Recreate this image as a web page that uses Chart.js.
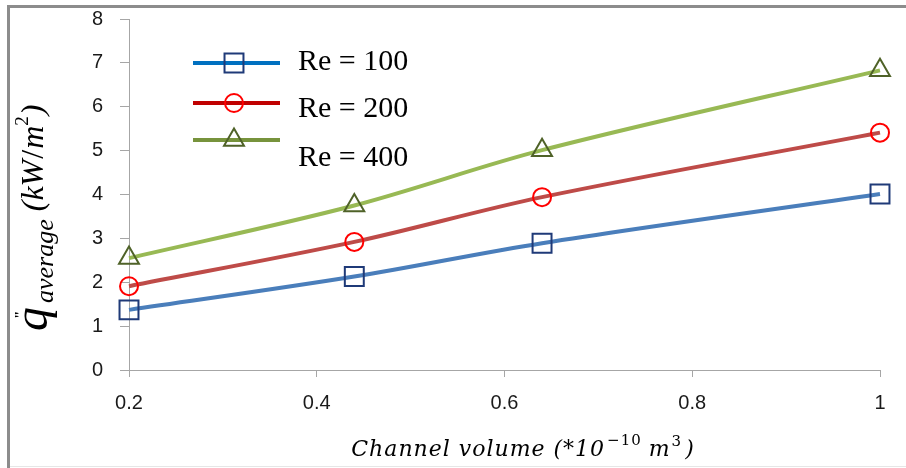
<!DOCTYPE html>
<html>
<head>
<meta charset="utf-8">
<script src="https://cdn.jsdelivr.net/npm/chart.js@4/dist/chart.umd.min.js"></script>
<style>
  html, body { margin: 0; padding: 0; background: #fff; }
  #wrap { width: 906px; height: 468px; position: relative; }
</style>
</head>
<body>
<div id="wrap"><canvas id="c" width="906" height="468"></canvas></div>
<script>
// ---- data ----
const channelVolume = [0.2, 0.44, 0.64, 1];
const re100 = [1.37, 2.13, 2.89, 4.01];
const re200 = [1.91, 2.92, 3.94, 5.41];
const re400 = [2.55, 3.75, 5.01, 6.83];
const seriesLabels = ['Re = 100', 'Re = 200', 'Re = 400'];
const yTicks = [0, 1, 2, 3, 4, 5, 6, 7, 8];
const xTicks = [0.2, 0.4, 0.6, 0.8, 1];

// ---- styles ----
const lineColors = ['#4A7EBB', '#BE4B48', '#98B954'];
const legendLineColors = ['#0070C0', '#C00000', '#77933C'];
const markerColors = ['#1F3A78', '#FF0000', '#4F6228'];
const markerStyles = ['rect', 'circle', 'triangle'];
const markerRadius = [13.4, 9, 11.5];

function pts(ys) { return channelVolume.map((x, i) => ({ x: x, y: ys[i] })); }
const allSeries = [re100, re200, re400];

const datasets = allSeries.map((ys, i) => ({
  label: seriesLabels[i],
  data: pts(ys),
  borderColor: lineColors[i],
  borderWidth: 4,
  tension: 0.33,
  fill: false,
  clip: false,
  pointStyle: markerStyles[i],
  pointRadius: markerRadius[i],
  pointHoverRadius: markerRadius[i],
  pointBorderColor: markerColors[i],
  pointBackgroundColor: 'rgba(0,0,0,0)',
  pointBorderWidth: 2
}));

const AXIS_GRAY = '#A6A6A6';

const framePlugin = {
  id: 'frame',
  beforeDraw(chart) {
    const ctx = chart.ctx;
    ctx.save();
    ctx.fillStyle = '#fff';
    ctx.fillRect(0, 0, chart.width, chart.height);
    ctx.restore();
  },
  afterDraw(chart) {
    const ctx = chart.ctx;
    ctx.save();
    ctx.strokeStyle = '#8C8C8C';
    ctx.lineWidth = 3;
    ctx.beginPath();
    ctx.moveTo(7, 6.5); ctx.lineTo(906, 6.5);
    ctx.moveTo(8.5, 5); ctx.lineTo(8.5, 468);
    ctx.stroke();
    ctx.strokeStyle = '#E6E6E6';
    ctx.lineWidth = 1;
    ctx.beginPath();
    ctx.moveTo(10, 466.5); ctx.lineTo(906, 466.5);
    ctx.stroke();

    // ---- y axis title ----
    ctx.fillStyle = '#000';
    ctx.translate(47, 331);
    ctx.rotate(-Math.PI / 2);
    ctx.textAlign = 'left';
    ctx.textBaseline = 'alphabetic';
    let x = 0;
    ctx.font = 'italic 48px "Liberation Serif"';
    ctx.fillText('q', x, 0);
    const qw = ctx.measureText('q').width;
    // double prime above q
    ctx.font = 'bold 15px "Liberation Serif"';
    ctx.fillText('"', x + qw * 0.5, -22);
    x += qw + 4;
    ctx.font = 'italic 26px "Liberation Serif"';
    ctx.fillText('average', x, 6);
    x += ctx.measureText('average').width + 8;
    ctx.font = 'italic 32px "Liberation Serif"';
    ctx.fillText('(kW', x, -4);
    x += ctx.measureText('(kW').width + 1;
    ctx.font = '32px "Liberation Serif"';
    ctx.fillText('/', x, -4);
    x += ctx.measureText('/').width + 1;
    ctx.font = 'italic 32px "Liberation Serif"';
    ctx.fillText('m', x, -4);
    x += ctx.measureText('m').width;
    ctx.font = '19px "Liberation Serif"';
    ctx.fillText('2', x, -19);
    x += ctx.measureText('2').width + 1;
    ctx.font = 'italic 32px "Liberation Serif"';
    ctx.fillText(')', x, -4);
    ctx.restore();

    // ---- x axis title ----
    ctx.save();
    ctx.fillStyle = '#000';
    ctx.textBaseline = 'alphabetic';
    ctx.textAlign = 'left';
    ctx.letterSpacing = '1px';
    const parts = [
      { t: 'Channel volume (*10', f: 'italic 22px "DejaVu Serif"', dy: 0, gap: 2 },
      { t: '\u221210', f: '15px "DejaVu Serif"', dy: -11, gap: 7 },
      { t: 'm', f: 'italic 22px "DejaVu Serif"', dy: 0, gap: 1 },
      { t: '3', f: '15px "DejaVu Serif"', dy: -10, gap: 3 },
      { t: ')', f: 'italic 22px "DejaVu Serif"', dy: 0, gap: 0 }
    ];
    let total = 0;
    parts.forEach(p => { ctx.font = p.f; p.w = ctx.measureText(p.t).width; total += p.w + p.gap; });
    let sx = 523 - total / 2;
    const base = 456;
    parts.forEach(p => { ctx.font = p.f; ctx.fillText(p.t, sx, base + p.dy); sx += p.w + p.gap; });
    ctx.restore();

    // ---- legend ----
    ctx.save();
    const lineYs = [63, 103, 140];
    const textYs = [62, 109, 158];
    chart.data.datasets.forEach((ds, i) => {
      const ly = lineYs[i];
      ctx.strokeStyle = legendLineColors[i];
      ctx.lineWidth = 4;
      ctx.beginPath();
      ctx.moveTo(193, ly); ctx.lineTo(280, ly);
      ctx.stroke();
      ctx.lineWidth = 2;
      ctx.strokeStyle = markerColors[i];
      ctx.fillStyle = 'rgba(0,0,0,0)';
      Chart.helpers.drawPoint(ctx, {
        pointStyle: markerStyles[i], rotation: 0, radius: markerRadius[i], borderWidth: 2
      }, 234, ly);
      ctx.fillStyle = '#000';
      ctx.font = '30px "Liberation Serif"';
      ctx.textBaseline = 'middle';
      ctx.textAlign = 'left';
      ctx.fillText(ds.label, 298, textYs[i]);
    });
    ctx.restore();
  }
};

function noPad(s) { s.paddingTop = 0; s.paddingBottom = 0; s.paddingLeft = 0; s.paddingRight = 0; }

new Chart(document.getElementById('c'), {
  type: 'line',
  data: { datasets: datasets },
  options: {
    responsive: false,
    animation: false,
    devicePixelRatio: 1,
    layout: { padding: { left: 0, top: 19, right: 26, bottom: 0 } },
    plugins: { legend: { display: false }, tooltip: { enabled: false } },
    scales: {
      x: {
        type: 'linear',
        min: xTicks[0],
        max: xTicks[xTicks.length - 1],
        afterFit(s) { s.height = 98; noPad(s); },
        afterBuildTicks(s) { s.ticks = xTicks.map(v => ({ value: v })); },
        grid: { display: true, drawOnChartArea: false, tickLength: 7, color: AXIS_GRAY, lineWidth: 1 },
        border: { color: AXIS_GRAY, width: 1 },
        ticks: {
          padding: 14,
          color: '#1a1a1a',
          font: { family: '"Liberation Sans"', size: 20 },
          callback: v => String(+(+v).toFixed(2))
        }
      },
      y: {
        min: yTicks[0],
        max: yTicks[yTicks.length - 1],
        afterFit(s) { s.width = 129; noPad(s); },
        afterBuildTicks(s) { s.ticks = yTicks.map(v => ({ value: v })); },
        grid: { display: true, drawOnChartArea: false, tickLength: 9, color: AXIS_GRAY, lineWidth: 1 },
        border: { color: AXIS_GRAY, width: 1 },
        ticks: {
          padding: 17,
          color: '#1a1a1a',
          font: { family: '"Liberation Sans"', size: 20 },
          callback: v => String(v)
        }
      }
    }
  },
  plugins: [framePlugin]
});
</script>
</body>
</html>
